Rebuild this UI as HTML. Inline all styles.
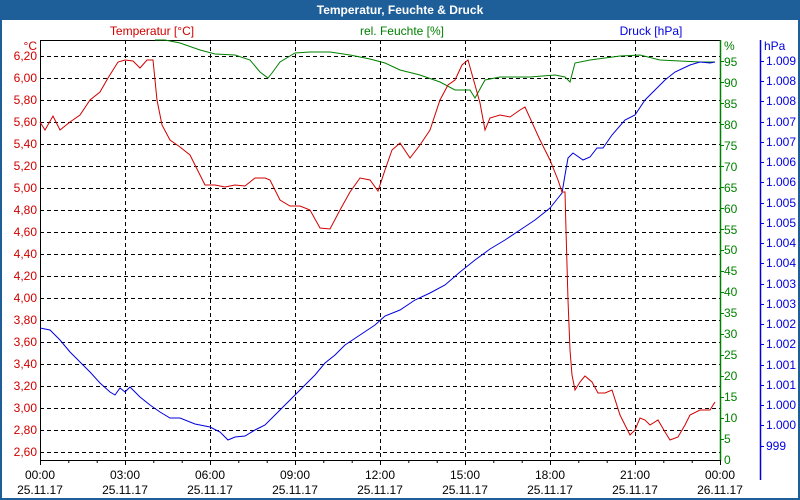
<!DOCTYPE html>
<html><head><meta charset="utf-8"><style>
html,body{margin:0;padding:0;background:#fff}
svg{display:block}
text{font-family:"Liberation Sans","DejaVu Sans",sans-serif;font-size:12px}
</style></head><body>
<svg width="800" height="500" viewBox="0 0 800 500" xmlns="http://www.w3.org/2000/svg">
<rect x="0" y="0" width="800" height="500" fill="#fff"/>
<rect x="1" y="1" width="798" height="498" fill="none" stroke="#1f5f99" stroke-width="2"/>
<rect x="0" y="0" width="800" height="20" fill="#1f5f99"/>
<text x="400" y="14" text-anchor="middle" fill="#fff" font-weight="bold" style="font-size:12px">Temperatur, Feuchte &amp; Druck</text>

<g stroke="#000" stroke-dasharray="4,3" stroke-width="1">
<line x1="40" x2="720" y1="56.5" y2="56.5"/><line x1="40" x2="720" y1="78.5" y2="78.5"/><line x1="40" x2="720" y1="100.5" y2="100.5"/><line x1="40" x2="720" y1="122.5" y2="122.5"/><line x1="40" x2="720" y1="144.5" y2="144.5"/><line x1="40" x2="720" y1="166.5" y2="166.5"/><line x1="40" x2="720" y1="188.5" y2="188.5"/><line x1="40" x2="720" y1="210.5" y2="210.5"/><line x1="40" x2="720" y1="232.5" y2="232.5"/><line x1="40" x2="720" y1="254.5" y2="254.5"/><line x1="40" x2="720" y1="276.5" y2="276.5"/><line x1="40" x2="720" y1="298.5" y2="298.5"/><line x1="40" x2="720" y1="320.5" y2="320.5"/><line x1="40" x2="720" y1="342.5" y2="342.5"/><line x1="40" x2="720" y1="364.5" y2="364.5"/><line x1="40" x2="720" y1="386.5" y2="386.5"/><line x1="40" x2="720" y1="408.5" y2="408.5"/><line x1="40" x2="720" y1="430.5" y2="430.5"/><line x1="40" x2="720" y1="452.5" y2="452.5"/>
<line y1="40" y2="460" x1="125.5" x2="125.5"/><line y1="40" y2="460" x1="210.5" x2="210.5"/><line y1="40" y2="460" x1="295.5" x2="295.5"/><line y1="40" y2="460" x1="380.5" x2="380.5"/><line y1="40" y2="460" x1="465.5" x2="465.5"/><line y1="40" y2="460" x1="550.5" x2="550.5"/><line y1="40" y2="460" x1="635.5" x2="635.5"/>
</g>
<line x1="40" x2="720" y1="40.5" y2="40.5" stroke="#000"/>
<line x1="40.5" x2="40.5" y1="40" y2="461" stroke="#000"/>
<line x1="40" x2="720" y1="460.5" y2="460.5" stroke="#000"/>
<line x1="720.5" x2="720.5" y1="40" y2="461" stroke="#008000" stroke-width="1.5"/>
<line x1="760.5" x2="760.5" y1="40" y2="480" stroke="#0000dd" stroke-width="1.5"/>
<g stroke="#000">
<path d="M40.5 460v5M68.8 460v3M97.2 460v3M125.5 460v5M153.8 460v3M182.2 460v3M210.5 460v5M238.8 460v3M267.2 460v3M295.5 460v5M323.8 460v3M352.2 460v3M380.5 460v5M408.8 460v3M437.2 460v3M465.5 460v5M493.8 460v3M522.2 460v3M550.5 460v5M578.8 460v3M607.2 460v3M635.5 460v5M663.8 460v3M692.2 460v3M720.5 460v5"/>
</g>

<g fill="#d00000" text-anchor="end">
<text x="37" y="50">°C</text>
<text x="37" y="60">6,20</text><text x="37" y="82">6,00</text><text x="37" y="104">5,80</text><text x="37" y="126">5,60</text><text x="37" y="148">5,40</text><text x="37" y="170">5,20</text><text x="37" y="192">5,00</text><text x="37" y="214">4,80</text><text x="37" y="236">4,60</text><text x="37" y="258">4,40</text><text x="37" y="280">4,20</text><text x="37" y="302">4,00</text><text x="37" y="324">3,80</text><text x="37" y="346">3,60</text><text x="37" y="368">3,40</text><text x="37" y="390">3,20</text><text x="37" y="412">3,00</text><text x="37" y="434">2,80</text><text x="37" y="456">2,60</text>
</g>
<text x="152" y="35" fill="#d00000" text-anchor="middle">Temperatur [°C]</text>
<text x="402" y="35" fill="#008000" text-anchor="middle">rel. Feuchte [%]</text>
<text x="651" y="35" fill="#0000dd" text-anchor="middle">Druck [hPa]</text>

<g fill="#008000">
<text x="724" y="50">%</text>
<text x="724" y="66">95</text><text x="724" y="87">90</text><text x="724" y="108">85</text><text x="724" y="129">80</text><text x="724" y="150">75</text><text x="724" y="171">70</text><text x="724" y="192">65</text><text x="724" y="213">60</text><text x="724" y="234">55</text><text x="724" y="254">50</text><text x="724" y="275">45</text><text x="724" y="296">40</text><text x="724" y="317">35</text><text x="724" y="338">30</text><text x="724" y="359">25</text><text x="724" y="380">20</text><text x="724" y="401">15</text><text x="724" y="422">10</text><text x="724" y="443">5</text><text x="724" y="464">0</text>
</g>
<g stroke="#008000"><path d="M720 61.5h4M720 82.5h4M720 103.5h4M720 124.5h4M720 145.5h4M720 166.5h4M720 187.5h4M720 208.5h4M720 229.5h4M720 250.5h4M720 271.5h4M720 292.5h4M720 313.5h4M720 334.5h4M720 355.5h4M720 376.5h4M720 397.5h4M720 418.5h4M720 439.5h4"/></g>

<g fill="#0000dd">
<text x="764" y="50">hPa</text>
<text x="766" y="65">1.009</text><text x="766" y="85">1.008</text><text x="766" y="105">1.008</text><text x="766" y="126">1.007</text><text x="766" y="146">1.007</text><text x="766" y="166">1.006</text><text x="766" y="186">1.006</text><text x="766" y="207">1.005</text><text x="766" y="227">1.005</text><text x="766" y="247">1.004</text><text x="766" y="267">1.004</text><text x="766" y="288">1.003</text><text x="766" y="308">1.003</text><text x="766" y="328">1.002</text><text x="766" y="348">1.002</text><text x="766" y="369">1.001</text><text x="766" y="389">1.001</text><text x="766" y="409">1.000</text><text x="766" y="429">1.000</text><text x="766" y="450">999</text>
</g>
<g stroke="#0000dd"><path d="M760 61.5h4M760 81.5h4M760 101.5h4M760 122.5h4M760 142.5h4M760 162.5h4M760 182.5h4M760 203.5h4M760 223.5h4M760 243.5h4M760 263.5h4M760 284.5h4M760 304.5h4M760 324.5h4M760 344.5h4M760 365.5h4M760 385.5h4M760 405.5h4M760 425.5h4M760 446.5h4"/></g>

<g fill="#000" text-anchor="middle">
<text x="40" y="479">00:00</text><text x="40" y="494">25.11.17</text>
<text x="125" y="479">03:00</text><text x="125" y="494">25.11.17</text>
<text x="210" y="479">06:00</text><text x="210" y="494">25.11.17</text>
<text x="295" y="479">09:00</text><text x="295" y="494">25.11.17</text>
<text x="380" y="479">12:00</text><text x="380" y="494">25.11.17</text>
<text x="465" y="479">15:00</text><text x="465" y="494">25.11.17</text>
<text x="550" y="479">18:00</text><text x="550" y="494">25.11.17</text>
<text x="635" y="479">21:00</text><text x="635" y="494">25.11.17</text>
<text x="720" y="479">00:00</text><text x="720" y="494">26.11.17</text>
</g>

<polyline fill="none" stroke="#008000" stroke-width="1" points="155,40 165,40 180,43 200,50 215,54 235,55 250,60 260,72 268,78 272,73 280,62 295,53 310,52 330,52 350,55 370,59 385,63 400,70 420,75 440,82 455,90 470,90 475,98 485,80 500,77 530,77 555,75 565,77 570,82 575,63 590,60 620,56 640,55 660,60 700,62 715,62"/>
<polyline fill="none" stroke="#0000dd" stroke-width="1" points="40,328 50,330 60,340 70,352 80,362 90,372 100,383 110,392 115,395 120,388 125,392 130,387 140,397 150,405 160,412 170,418 180,418 195,424 210,427 220,432 228,440 235,437 245,436 255,430 265,425 275,415 285,405 295,395 305,385 315,375 325,363 335,355 345,345 360,335 375,325 385,316 400,310 415,300 430,293 445,285 460,272 475,260 490,249 505,240 520,230 535,220 550,208 558,198 562,193 565,175 568,158 573,153 583,160 590,157 597,148 603,148 612,135 625,120 635,115 645,100 655,90 665,80 675,72 690,65 700,62 710,63 715,62"/>
<polyline fill="none" stroke="#d00000" stroke-width="1" points="40,122 45,130 53,116 60,130 70,122 80,115 90,100 100,92 108,78 118,62 125,60 133,61 140,68 147,60 153,60 157,100 162,125 170,140 180,147 190,155 200,175 205,185 215,185 225,187 235,185 245,186 255,178 265,178 270,180 280,200 290,206 300,206 310,210 320,228 330,229 340,210 350,192 360,178 370,180 378,191 385,170 392,150 400,143 410,158 420,145 430,130 440,100 448,85 455,80 462,65 468,60 475,85 480,103 485,130 490,118 500,115 510,117 520,110 525,107 530,118 540,140 550,160 558,180 562,192 565,192 566,230 568,300 570,350 572,375 575,390 580,382 585,376 592,382 598,393 605,393 612,390 620,415 630,435 635,430 640,418 645,420 650,425 658,420 665,432 670,440 678,437 685,425 690,415 700,410 710,410 715,402"/>
</svg>
</body></html>
